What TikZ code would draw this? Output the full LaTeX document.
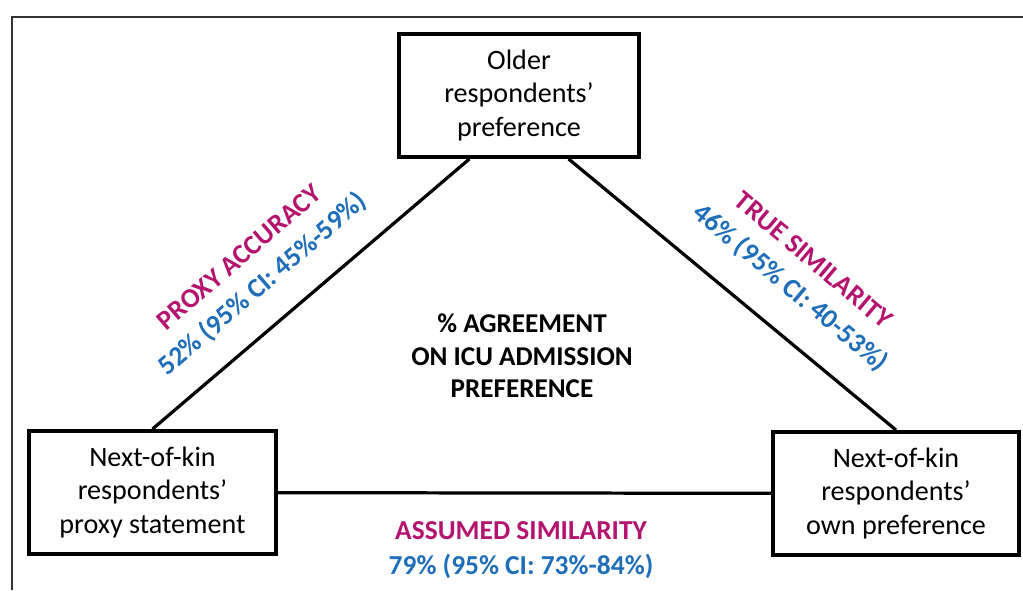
\documentclass[tikz,border=0pt]{standalone}
\usepackage{fontspec}
\setmainfont{Carlito}
\usepackage{xcolor}
\usepackage{tikz}
\usetikzlibrary{positioning}
\definecolor{labmagenta}{RGB}{180,20,110}
\definecolor{labblue}{RGB}{30,110,185}
\tikzstyle{party} = [rectangle, draw=black, line width=2.8pt, minimum height=3.075cm, align=center, inner sep=0pt, font=\fontsize{20}{23.5}\selectfont]
\tikzstyle{link} = [line width=2.3pt]
\tikzstyle{agree} = [align=center, inner sep=1pt, font=\bfseries\fontsize{19.5}{25}\selectfont]

\begin{document}
\begin{tikzpicture}[
  every node/.style={inner sep=1.5pt}
]
\useasboundingbox (0,0) rectangle (25.575,14.75);
\draw [line width=1.9pt, draw=black!80] (0.3,0) -- (0.3,14.325) -- (25.575,14.325);

\node (older) [party, minimum width=6.0cm] at (12.975,12.3625)
  {Older\\respondents’\\preference};
\node (proxy) [party, minimum width=6.175cm] at (3.8125,2.4375)
  {Next-of-kin\\respondents’\\proxy statement};
\node (own) [party, minimum width=6.15cm] at (22.4,2.4125)
  {Next-of-kin\\respondents’\\own preference};

\draw [link] (proxy.north) -- (older.232);
\draw [link] (older.308) -- (own.north);
\draw [link] (proxy) -- (own);

\node (centre) [agree, font=\bfseries\fontsize{19.3}{23}\selectfont] at (13.05,5.85)
  {\% AGREEMENT\\ON ICU ADMISSION\\PREFERENCE};

\node (pa) [agree, rotate=40.7] at (6.3,7.95)
  {\textcolor{labmagenta}{PROXY ACCURACY}\\\textcolor{labblue}{52\% (95\% CI: 45\%-59\%)}};
\node (ts) [agree, rotate=-40] at (20.025,7.875)
  {\textcolor{labmagenta}{TRUE SIMILARITY}\\\textcolor{labblue}{46\% (95\% CI: 40-53\%)}};
\node (as) [agree] at (13.025,1.0)
  {\textcolor{labmagenta}{ASSUMED SIMILARITY}\\\textcolor{labblue}{79\% (95\% CI: 73\%-84\%)}};

\end{tikzpicture}
\end{document}
